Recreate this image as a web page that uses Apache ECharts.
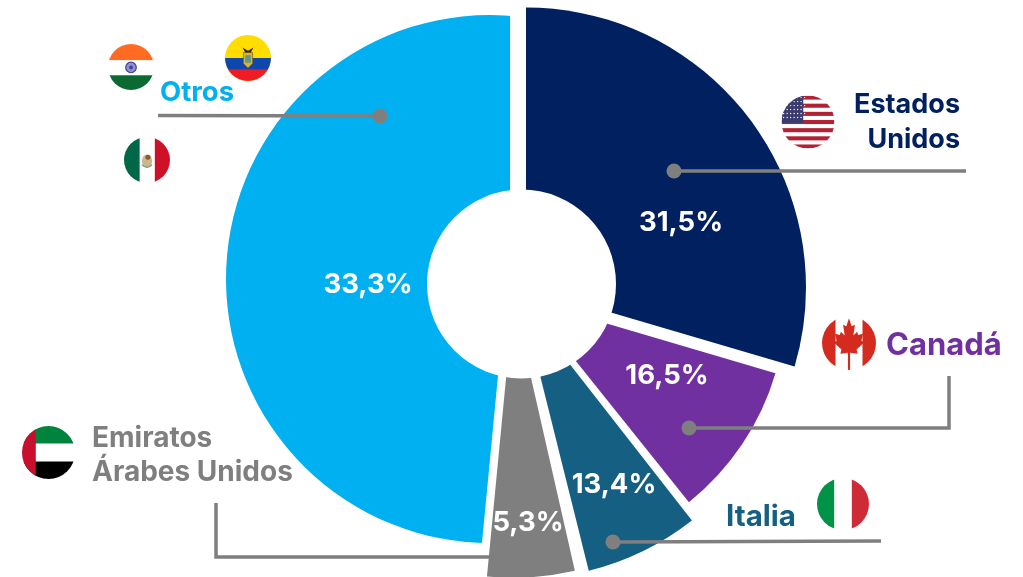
<!DOCTYPE html>
<html><head><meta charset="utf-8">
<style>html,body{margin:0;padding:0;background:#fff}#c{width:1023px;height:577px}</style>
<script src="https://cdn.jsdelivr.net/npm/echarts@6/dist/echarts.min.js"></script>
</head><body><div id="c"></div>
<script>
// Values printed on the reference slices.
const categories = ['Estados Unidos','Canadá','Italia','Emiratos Árabes Unidos','Otros'];
const values = [31.5,16.5,13.4,5.3,33.3];
// The reference's slices are not proportional to their printed values,
// so the angles seen in the picture are kept separately (degrees clockwise from 12 o'clock).
const startAngles = [0,106.4,142,167.2,174];
const sweepAngles = [106.4,34.9,24,18.3,198.8];
const colors = ['#002060','#7030a0','#156082','#7f7f7f','#00b0f0'];

const centers = [[526,287.5],[527,300],[522,303],[513.5,300.7],[490,279]];
const radii = [280,259,276,277,264];
const labelAt = [[681,223],[667,376],[614,485],[528,523],[368,285]];
const seriesZ = [3,3,3,3,1];

const FONT = '"Inter","Open Sans",sans-serif';
const esPct = v => v.toFixed(1).replace('.',',')+'%';

const series = values.map((v,i)=>({
  type:'pie', silent:true, animation:false, z:seriesZ[i],
  center:centers[i], radius:[0,radii[i]], startAngle:90-startAngles[i], clockwise:true,
  avoidLabelOverlap:false,
  label:{show:true,position:'inside',formatter:p=>esPct(p.value),color:'#fff',fontFamily:FONT,fontWeight:700,fontSize:27.5},
  labelLine:{show:false},
  labelLayout:{x:labelAt[i][0],y:labelAt[i][1],align:'center',verticalAlign:'middle',hideOverlap:false},
  data:[
    {name:categories[i],value:v,itemStyle:{color:colors[i]}},
    {name:'',value:v*(360-sweepAngles[i])/sweepAngles[i],itemStyle:{color:'transparent'},label:{show:false}}
  ]
}));

// Flags
const clip = (inner)=>`<svg xmlns="http://www.w3.org/2000/svg" viewBox="0 0 100 100" width="200" height="200"><defs><clipPath id="k"><circle cx="50" cy="50" r="50"/></clipPath></defs><g clip-path="url(#k)">${inner}</g></svg>`;
const usStripes = [0,1,2,3,4,5,6].map(n=>`<rect x="0" y="${n*15.4}" width="100" height="7.7" fill="#b22234"/>`).join('');
let usStars=''; for(let r=0;r<6;r++)for(let c=0;c<7;c++)usStars+=`<circle cx="${4+c*6.6}" cy="${4+r*7.5}" r="1.3" fill="#fff"/>`;
const leaf='M50 4 L55 19 L61 16 L58 36 L65 29 L67 35 L76 33 L73 46 L78 49 L64 62 L66 70 L52 68 L52 100 L48 100 L48 68 L34 70 L36 62 L22 49 L27 46 L24 33 L33 35 L35 29 L42 36 L39 16 L45 19 Z';
const flags = {
  india:clip('<rect width="100" height="100" fill="#fff"/><rect width="100" height="35" fill="#ff6b23"/><rect y="68" width="100" height="32" fill="#0a6a31"/><circle cx="50" cy="51" r="11.5" fill="#8f90cc" stroke="#3f3f9f" stroke-width="2.5"/><circle cx="50" cy="51" r="4" fill="#3f3f9f"/>'),
  ecuador:clip('<rect width="100" height="100" fill="#ffdd00"/><rect y="50" width="100" height="26" fill="#0f47af"/><rect y="75" width="100" height="25" fill="#ef1c25"/><path d="M40 38 L60 38 L60 62 L50 72 L40 62 Z" fill="#d8b23a" stroke="#7a5a20" stroke-width="1.5"/><path d="M38 27 L50 34 L62 27 L56 38 L44 38 Z" fill="#3a2a18"/><rect x="44" y="44" width="12" height="16" fill="#5a9a8a"/>'),
  mexico:clip('<rect width="100" height="100" fill="#fff"/><rect width="34" height="100" fill="#006847"/><rect x="67" width="33" height="100" fill="#ce1126"/><ellipse cx="50" cy="52" rx="11" ry="14" fill="#cdb58c"/><circle cx="52" cy="44" r="5.5" fill="#8a5a30"/><path d="M39 60 Q50 72 61 60" fill="none" stroke="#6a9a72" stroke-width="3"/>'),
  usa:clip(`<rect width="100" height="100" fill="#fff"/>${usStripes}<rect width="41" height="52" fill="#3c3b6e"/>${usStars}`),
  canada:clip(`<rect width="100" height="100" fill="#fff"/><rect width="25" height="100" fill="#d52b1e"/><rect x="75" width="25" height="100" fill="#d52b1e"/><path d="${leaf}" fill="#d52b1e"/>`),
  italy:clip('<rect width="100" height="100" fill="#fff"/><rect width="33" height="100" fill="#009246"/><rect x="67" width="33" height="100" fill="#ce2b37"/>'),
  uae:clip('<rect width="100" height="100" fill="#fff"/><rect width="100" height="33" fill="#00843d"/><rect y="67" width="100" height="33" fill="#000"/><rect width="26" height="100" fill="#c8102e"/>')
};
const flagAt = [['india',131,67,23],['ecuador',248,58,23],['mexico',147,160,23],['usa',808,122,26.5],['canada',849,343,27],['italy',843,504,26],['uae',48.5,452.5,26.5]];

const LINE='#7f7f7f';
const leaders = [
  {pts:[[674,171],[966,171]],dot:[674,171]},
  {pts:[[689,428],[949,428],[949,376]],dot:[689,428]},
  {pts:[[613,542],[881,541]],dot:[613,542]},
  {pts:[[216,503],[216,557],[490,557]],dot:null},
  {pts:[[380,116],[158,115.5]],dot:[380,116]}
];
// text, x, y, align, colour, font size
const texts = [
  ['Estados',960,105,'right','#002060',27],['Unidos',960,140,'right','#002060',27],
  ['Canadá',886,346,'left','#7030a0',31],['Italia',726,517,'left','#156082',29.5],
  ['Otros',160,93,'left','#00b0f0',27.5],
  ['Emiratos',92,439,'left','#7f7f7f',28],['Árabes Unidos',92,473,'left','#7f7f7f',28]
];

const graphic = [];
// white gaps around the Otros slice (sits between Otros and its neighbours)
graphic.push({type:'rect',z:2,silent:true,shape:{x:510,y:0,width:17,height:200},style:{fill:'#fff'}});
graphic.push({type:'polygon',z:2,silent:true,shape:{points:[[499,365],[481.5,548],[510,565],[516,365]]},style:{fill:'#fff'}});
// doughnut hole
graphic.push({type:'circle',z:4,silent:true,shape:{cx:521.5,cy:284,r:94.5},style:{fill:'#fff'}});
leaders.forEach(l=>{
  graphic.push({type:'polyline',z:5,silent:true,shape:{points:l.pts},style:{stroke:LINE,lineWidth:3.5,fill:null}});
  if(l.dot)graphic.push({type:'circle',z:5,silent:true,shape:{cx:l.dot[0],cy:l.dot[1],r:7.5},style:{fill:LINE}});
});
texts.forEach(t=>graphic.push({type:'text',z:6,silent:true,style:{text:t[0],x:t[1],y:t[2],textAlign:t[3],textVerticalAlign:'middle',fill:t[4],font:'700 '+t[5]+'px '+FONT}}));
flagAt.forEach(f=>graphic.push({type:'image',z:6,silent:true,style:{image:'data:image/svg+xml;charset=utf-8,'+encodeURIComponent(flags[f[0]]),x:f[1]-f[3],y:f[2]-f[3],width:2*f[3],height:2*f[3]}}));

const chart = echarts.init(document.getElementById('c'),null,{renderer:'canvas'});
chart.setOption({backgroundColor:'#fff',animation:false,series,graphic});
</script></body></html>
